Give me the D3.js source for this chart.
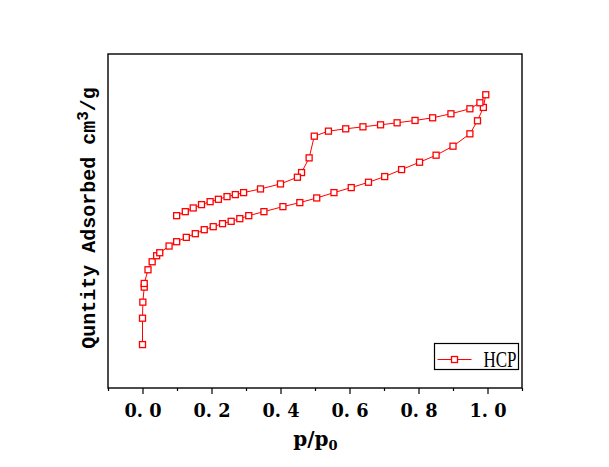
<!DOCTYPE html>
<html>
<head>
<meta charset="utf-8">
<script src="https://cdn.jsdelivr.net/npm/d3@7"></script>
<style>
body { margin: 0; background: #fff; }
</style>
</head>
<body>
<div id="isotherm"></div>
<script>

// adsorption branch (p/p0, quantity adsorbed)
var adsP = [0.000, 0.000, 0.001, 0.005, 0.005, 0.016, 0.028, 0.041, 0.050, 0.077,
    0.099, 0.127, 0.153, 0.179, 0.205, 0.232, 0.257, 0.282, 0.308, 0.352,
    0.407, 0.456, 0.505, 0.555, 0.605, 0.655, 0.702, 0.751, 0.803, 0.851,
    0.900, 0.949, 0.971, 0.988, 0.995];
var adsV = [130, 209, 257, 302, 313, 354, 378, 396, 405, 425,
    438, 451, 462, 474, 483, 492, 499, 507, 516, 528,
    543, 555, 569, 585, 600, 616, 633, 654, 676, 697,
    724, 761, 800, 840, 878];

// desorption branch
var desP = [0.978, 0.949, 0.894, 0.841, 0.790, 0.738, 0.690, 0.639, 0.589, 0.539,
    0.498, 0.483, 0.461, 0.449, 0.400, 0.342, 0.293, 0.269, 0.245, 0.220,
    0.196, 0.171, 0.147, 0.124, 0.099];
var desV = [854, 836, 821, 809, 801, 794, 788, 782, 776, 769,
    754, 689, 645, 631, 611, 596, 585, 579, 573, 565,
    558, 549, 539, 528, 516];

var majorTicks = [0, 0.2, 0.4, 0.6, 0.8, 1.0];
var majorLabels = ["0. 0", "0. 2", "0. 4", "0. 6", "0. 8", "1. 0"];
var minorTicks = [-0.1, 0.1, 0.3, 0.5, 0.7, 0.9, 1.1];
var seriesName = "HCP";

function drawIsotherm () {
    var margin = {top: 54, right: 87, bottom: 79, left: 108},
        width = 609 - margin.left - margin.right,
        height = 467 - margin.top - margin.bottom;

    var xs = d3.scaleLinear().domain([-0.1, 1.1]).range([0, width]);
    var ys = d3.scaleLinear().domain([0, 1000]).range([height, 0]);

    var svg = d3.select("#isotherm").append("svg")
        .attr("width", 609)
        .attr("height", 467);
    var g = svg.append("g")
        .attr("transform", "translate(" + margin.left + "," + margin.top + ")");

    // major + minor ticks on the bottom
    var xax = g.append("g").attr("class", "axis xaxis")
        .attr("transform", "translate(0," + height + ")")
        .call(d3.axisBottom(xs).tickValues(majorTicks).tickSize(6)
            .tickFormat(function(d, i) { return majorLabels[i]; }));
    g.append("g").attr("class", "axis")
        .attr("transform", "translate(0," + height + ")")
        .call(d3.axisBottom(xs).tickValues(minorTicks).tickSize(3).tickFormat(""));
    g.selectAll(".axis .domain").remove();
    g.selectAll(".axis line").attr("stroke", "#000").attr("stroke-width", 1.2);
    xax.selectAll("text")
        .attr("y", 29).attr("dy", null)
        .attr("fill", "#000")
        .style("font-family", "'DejaVu Serif'")
        .style("font-weight", "bold")
        .style("font-size", "18px")
        .attr("textLength", 37)
        .attr("lengthAdjust", "spacingAndGlyphs");

    // frame
    g.append("rect")
        .attr("x", 0).attr("y", 0)
        .attr("width", width).attr("height", height)
        .attr("fill", "none").attr("stroke", "#000").attr("stroke-width", 1.4);

    var pts = [];
    adsP.forEach(function(p, i) { pts.push({p: p, v: adsV[i]}); });
    desP.forEach(function(p, i) { pts.push({p: p, v: desV[i]}); });

    var line = d3.line()
        .x(function(d) { return xs(d.p); })
        .y(function(d) { return ys(d.v); });

    g.append("path")
        .datum(pts)
        .attr("fill", "none")
        .attr("stroke", "#ff0000")
        .attr("stroke-width", 1)
        .attr("d", line);

    g.selectAll(".pt").data(pts).enter().append("rect")
        .attr("class", "pt")
        .attr("x", function(d) { return xs(d.p) - 3; })
        .attr("y", function(d) { return ys(d.v) - 3; })
        .attr("width", 6).attr("height", 6)
        .attr("fill", "#fff")
        .attr("stroke", "#ff0000")
        .attr("stroke-width", 1.3);

    // axis titles
    var xt = svg.append("text")
        .attr("x", 315.5).attr("y", 446)
        .attr("text-anchor", "middle")
        .style("font-family", "'DejaVu Serif'")
        .style("font-weight", "bold")
        .style("font-size", "20px")
        .text("p/p");
    xt.append("tspan").attr("dy", 4).style("font-size", "13px").text("0");

    var yt = svg.append("text")
        .attr("transform", "translate(95,218) rotate(-90)")
        .attr("text-anchor", "middle")
        .style("font-family", "'Liberation Mono'")
        .style("font-weight", "bold")
        .style("font-size", "20px")
        .text("Quntity Adsorbed cm");
    yt.append("tspan").attr("dy", -7).style("font-size", "16px").text("3");
    yt.append("tspan").attr("dy", 7).text("/g");

    // legend
    var lg = svg.append("g").attr("transform", "translate(434.5,343.5)");
    lg.append("rect")
        .attr("width", 84).attr("height", 26)
        .attr("fill", "#fff").attr("stroke", "#000").attr("stroke-width", 1.2);
    lg.append("line")
        .attr("x1", 3).attr("x2", 37).attr("y1", 16).attr("y2", 16)
        .attr("stroke", "#ff0000").attr("stroke-width", 1);
    lg.append("rect")
        .attr("x", 17).attr("y", 13).attr("width", 6).attr("height", 6)
        .attr("fill", "#fff").attr("stroke", "#ff0000").attr("stroke-width", 1.3);
    lg.append("text")
        .attr("x", 49).attr("y", 23.5)
        .style("font-family", "'Liberation Serif'")
        .style("font-size", "24px")
        .attr("textLength", 33)
        .attr("lengthAdjust", "spacingAndGlyphs")
        .text(seriesName);
}

drawIsotherm();
</script>
</body>
</html>
